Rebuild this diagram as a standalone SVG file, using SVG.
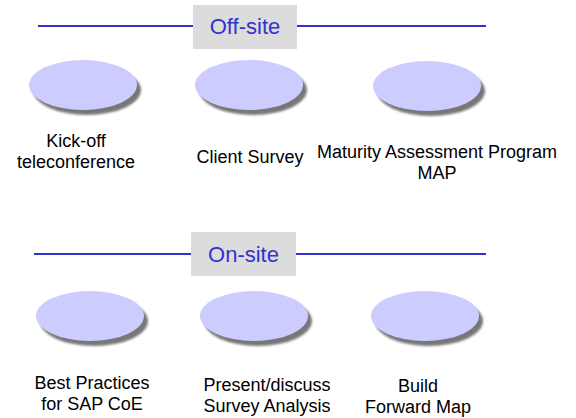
<svg xmlns="http://www.w3.org/2000/svg" width="576" height="418" viewBox="0 0 576 418">
  <style>
    .rule { stroke: #3333cc; stroke-width: 2; fill: none; }
    .hbox { fill: #dcdcdc; }
    .htext { font-family: "Liberation Sans", Arial, sans-serif; font-size: 22px; fill: #3333cc; text-anchor: middle; }
    .oval { fill: #ccccff; }
    .shadow { fill: #777777; filter: url(#blur); }
    .lbl { font-family: "Liberation Sans", Arial, sans-serif; font-size: 18px; fill: #000000; text-anchor: middle; }
  </style>
  <defs>
    <filter id="blur" x="-20%" y="-20%" width="140%" height="140%">
      <feGaussianBlur stdDeviation="1.2"/>
    </filter>
  </defs>
  <rect width="576" height="418" fill="#ffffff"/>

  <g id="headers">
    <g id="offsite">
      <line class="rule" x1="38" y1="26" x2="486" y2="26"/>
      <rect class="hbox" x="193" y="5" width="104" height="44"/>
      <text class="htext" x="245" y="34">Off-site</text>
    </g>
    <g id="onsite">
      <line class="rule" x1="34" y1="254" x2="486" y2="254"/>
      <rect class="hbox" x="191" y="232" width="105" height="44"/>
      <text class="htext" x="243.5" y="262">On-site</text>
    </g>
  </g>

  <g id="connectors"></g>

  <g id="node-kickoff">
    <ellipse class="shadow" cx="87" cy="90" rx="54" ry="25"/>
    <ellipse class="oval" cx="83" cy="85" rx="54" ry="25"/>
    <text class="lbl" x="76" y="147">Kick-off</text>
    <text class="lbl" x="76" y="168">teleconference</text>
  </g>
  <g id="node-survey">
    <ellipse class="shadow" cx="253" cy="90" rx="54" ry="25"/>
    <ellipse class="oval" cx="249" cy="85" rx="54" ry="25"/>
    <text class="lbl" x="250" y="163">Client Survey</text>
  </g>
  <g id="node-map">
    <ellipse class="shadow" cx="431" cy="91" rx="54" ry="25"/>
    <ellipse class="oval" cx="427" cy="86" rx="54" ry="25"/>
    <text class="lbl" x="437" y="158">Maturity Assessment Program</text>
    <text class="lbl" x="437" y="179">MAP</text>
  </g>

  <g id="node-bestpractices">
    <ellipse class="shadow" cx="94" cy="321" rx="54" ry="25"/>
    <ellipse class="oval" cx="90" cy="316" rx="54" ry="25"/>
    <text class="lbl" x="92" y="389">Best Practices</text>
    <text class="lbl" x="92" y="410">for SAP CoE</text>
  </g>
  <g id="node-present">
    <ellipse class="shadow" cx="258" cy="321" rx="54" ry="25"/>
    <ellipse class="oval" cx="254" cy="316" rx="54" ry="25"/>
    <text class="lbl" x="267" y="391">Present/discuss</text>
    <text class="lbl" x="267" y="412">Survey Analysis</text>
  </g>
  <g id="node-build">
    <ellipse class="shadow" cx="429" cy="321" rx="54" ry="25"/>
    <ellipse class="oval" cx="425" cy="316" rx="54" ry="25"/>
    <text class="lbl" x="418" y="392">Build</text>
    <text class="lbl" x="418" y="413">Forward Map</text>
  </g>
</svg>
